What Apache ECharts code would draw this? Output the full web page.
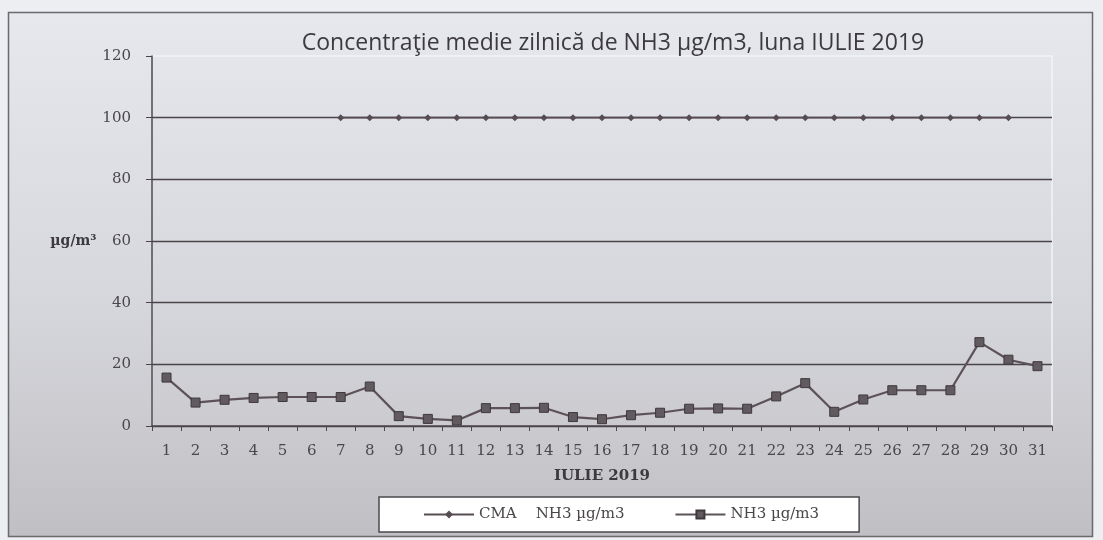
<!DOCTYPE html>
<html>
<head>
<meta charset="utf-8">
<script src="https://cdn.jsdelivr.net/npm/echarts@6/dist/echarts.min.js"></script>
<style>
  html, body { margin: 0; padding: 0; background: #eceef2; }
  #chart { width: 1103px; height: 540px; }
</style>
</head>
<body>
<div id="chart"></div>
<script>
// zilele lunii iulie 2019
const days = Array.from({ length: 31 }, (_, i) => String(i + 1));
// concentratia medie zilnica NH3 (ug/m3)
const nh3Values = [15.7, 7.6, 8.5, 9.1, 9.4, 9.4, 9.4, 12.8, 3.2, 2.3, 1.8, 5.8, 5.8, 5.9, 2.9, 2.2,
  3.5, 4.3, 5.6, 5.7, 5.6, 9.6, 13.9, 4.6, 8.6, 11.6, 11.6, 11.6, 27.2, 21.5, 19.4];
// CMA - concentratia maxima admisa, zilele 7..30
const cmaValues = [null, null, null, null, null, null, 100, 100, 100, 100, 100, 100, 100, 100, 100,
  100, 100, 100, 100, 100, 100, 100, 100, 100, 100, 100, 100, 100, 100, 100, null];
const yTicks = { min: 0, max: 120, interval: 20 };

const serif = "DejaVu Serif";
const lineColor = "#564c52";

const chart = echarts.init(document.getElementById("chart"));
chart.setOption({
  animation: false,
  backgroundColor: "transparent",
  graphic: [
    {
      type: "rect",
      z: -10,
      shape: { x: 8.5, y: 12.5, width: 1084, height: 524 },
      style: {
        fill: new echarts.graphic.LinearGradient(0, 0, 0, 1, [
          { offset: 0, color: "#e6e8ee" },
          { offset: 0.55, color: "#d6d7dc" },
          { offset: 1, color: "#c0bfc4" }
        ]),
        stroke: "#6a6a6c",
        lineWidth: 1.5
      }
    }
  ],
  title: {
    text: "Concentraţie medie zilnică de NH3 µg/m3, luna IULIE 2019",
    left: 608,
    textAlign: "center",
    top: 27,
    textStyle: {
      fontFamily: "Open Sans",
      fontSize: 23,
      fontWeight: "normal",
      color: "#3d3a3e"
    }
  },
  legend: {
    left: 379,
    top: 497,
    backgroundColor: "#ffffff",
    borderColor: "#4a4a4c",
    borderWidth: 1.5,
    borderRadius: 0,
    padding: [10, 40, 10, 44],
    itemGap: 50,
    itemWidth: 50,
    itemHeight: 10,
    textStyle: { fontFamily: serif, fontSize: 15, color: "#4a4649" },
    data: ["CMA    NH3 µg/m3", "NH3 µg/m3"]
  },
  grid: {
    left: 152,
    top: 56,
    width: 900,
    height: 370,
    show: true,
    backgroundColor: "transparent",
    borderColor: "#f2f3f6",
    borderWidth: 1.5
  },
  xAxis: {
    type: "category",
    data: days,
    boundaryGap: true,
    name: "IULIE 2019",
    nameLocation: "middle",
    nameGap: 43,
    nameTextStyle: { fontFamily: serif, fontSize: 15, fontWeight: "bold", color: "#3d3a3e" },
    axisLine: { lineStyle: { color: "#4a4549", width: 1.5 } },
    axisTick: { show: true, length: 5, lineStyle: { color: "#4a4549" } },
    axisLabel: { margin: 18, fontFamily: serif, fontSize: 15, color: "#4a4649" }
  },
  yAxis: {
    type: "value",
    min: yTicks.min,
    max: yTicks.max,
    interval: yTicks.interval,
    name: "µg/m³",
    nameLocation: "middle",
    nameRotate: 0,
    nameGap: 52,
    nameTextStyle: { fontFamily: serif, fontSize: 14, fontWeight: "bold", color: "#3d3a3e" },
    axisLine: { show: true, lineStyle: { color: "#4a4549", width: 1.5 } },
    axisTick: { show: true, length: 6, lineStyle: { color: "#4a4549" } },
    axisLabel: { margin: 21, fontFamily: serif, fontSize: 15, color: "#4a4649" },
    splitLine: { show: true, showMaxLine: false, lineStyle: { color: "#4a4448", width: 1.4 } }
  },
  series: [
    {
      name: "CMA    NH3 µg/m3",
      type: "line",
      data: cmaValues,
      symbol: "diamond",
      symbolSize: 7,
      showAllSymbol: true,
      lineStyle: { color: lineColor, width: 1.6 },
      itemStyle: { color: lineColor }
    },
    {
      name: "NH3 µg/m3",
      type: "line",
      data: nh3Values,
      symbol: "rect",
      symbolSize: 9,
      showAllSymbol: true,
      lineStyle: { color: "#5d5257", width: 2.2 },
      itemStyle: { color: "#615a5e", borderColor: "#3f383c", borderWidth: 1 }
    }
  ]
});
</script>
</body>
</html>
